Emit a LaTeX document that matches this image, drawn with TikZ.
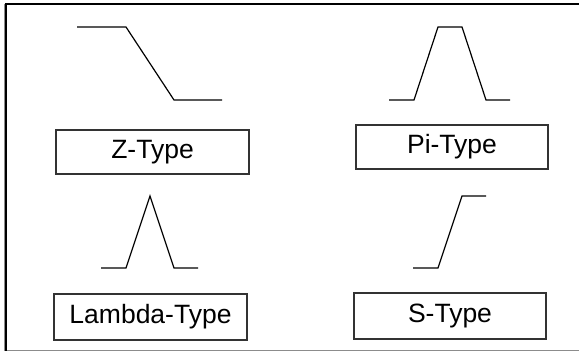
\documentclass[tikz,border=0pt]{standalone}
\usepackage{fontspec}
\setmainfont{Liberation Sans}
\begin{document}
\begin{tikzpicture}[x=1pt,y=-1pt,
  typebox/.style={draw=black!80, line width=1.2pt, inner sep=0pt, font=\fontsize{26.5}{30}\selectfont},
  curve/.style={draw=black, line width=1.2pt, line join=miter}]
\useasboundingbox (0,0) rectangle (579,352);
% frame
\draw[black!45, line width=1pt] (4,4) -- (4,351) -- (579,351);
\draw[black, line width=2.2pt] (6,351) -- (6,4) -- (579,4);
% boxes
\node[typebox, minimum width=193pt, minimum height=44pt] (z) at (152.5,152) {Z-Type};
\node[typebox, minimum width=192pt, minimum height=44pt] (pi) at (452,147) {Pi-Type};
\node[typebox, minimum width=193pt, minimum height=46pt] (lambda) at (150.5,317) {Lambda-Type};
\node[typebox, minimum width=192pt, minimum height=46pt] (s) at (450,316) {S-Type};
% curves
\draw[curve] (77,27) -- (126,27) -- (174,100) -- (222,100);
\draw[curve] (389,100) -- (414,100) -- (438,27) -- (462,27) -- (486,100) -- (510,100);
\draw[curve] (101,268) -- (126,268) -- (150,196) -- (174,268) -- (198,268);
\draw[curve] (413,268) -- (438,268) -- (462,196) -- (486,196);
\end{tikzpicture}
\end{document}
